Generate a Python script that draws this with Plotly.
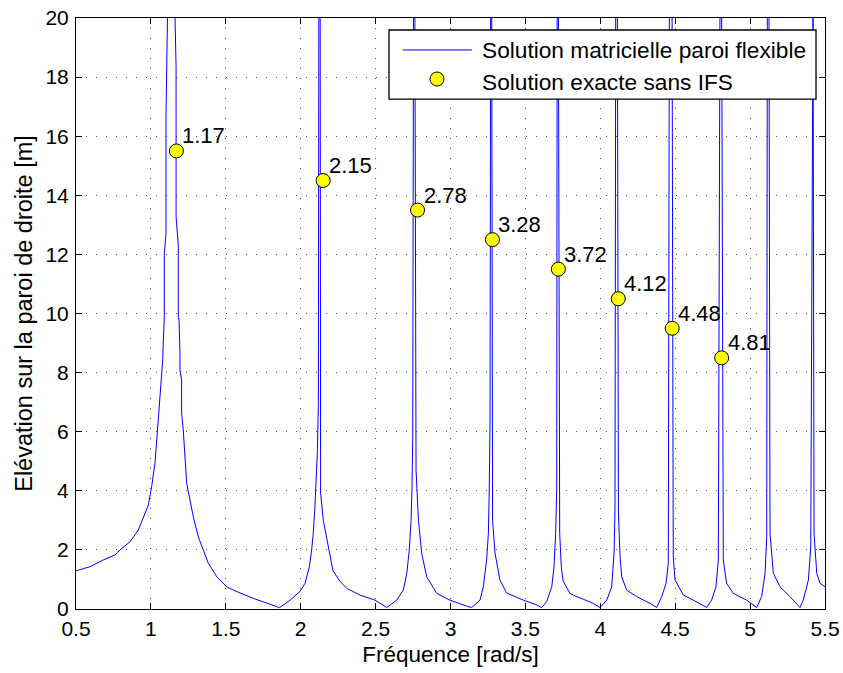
import plotly.graph_objects as go

# ---- Data ----
freq = [0.50, 0.593, 0.682, 0.76, 0.794, 0.861, 0.916, 0.949, 0.983, 1.005, 1.027, 1.039,
        1.056, 1.067, 1.079, 1.083, 1.0875, 1.0897, 1.0897, 1.1008, 1.1008, 1.112,
        1.159, 1.168, 1.168, 1.183, 1.183, 1.188, 1.194, 1.194, 1.205, 1.205, 1.216, 1.228,
        1.239, 1.261, 1.283, 1.316, 1.35, 1.383, 1.44, 1.506, 1.55, 1.684, 1.84, 1.857,
        1.929, 1.995, 2.029, 2.058, 2.073, 2.084, 2.095, 2.102, 2.111, 2.118, 2.121,
        2.130, 2.133, 2.151, 2.173, 2.196, 2.215, 2.26, 2.307, 2.396, 2.496, 2.574,
        2.641, 2.685, 2.708, 2.725, 2.737, 2.743, 2.748, 2.753,
        2.762, 2.77, 2.786, 2.808, 2.841, 2.908, 2.996, 3.107, 3.141,
        3.197, 3.219, 3.241, 3.253, 3.259, 3.264, 3.268,
        3.275, 3.281, 3.297, 3.33, 3.375, 3.486, 3.575, 3.609,
        3.642, 3.676, 3.691, 3.702, 3.709, 3.712,
        3.72, 3.729, 3.74, 3.752, 3.776, 3.797, 3.82, 3.865, 3.953, 3.998,
        4.043, 4.076, 4.092, 4.098, 4.103,
        4.114, 4.121, 4.132, 4.143, 4.176, 4.243, 4.332, 4.377,
        4.41, 4.439, 4.454, 4.461,
        4.479, 4.487, 4.499, 4.555, 4.621, 4.71,
        4.743, 4.772, 4.788, 4.799,
        4.81, 4.821, 4.843, 4.888, 4.977, 5.021, 5.044,
        5.077, 5.1, 5.111, 5.115,
        5.126, 5.133, 5.155, 5.2, 5.266, 5.333,
        5.355, 5.389, 5.405, 5.415,
        5.42, 5.427, 5.445, 5.467, 5.50]
elevation = [1.29, 1.43, 1.66, 1.83, 2.0, 2.28, 2.67, 3.07, 3.52, 4.14, 4.93, 5.72,
             6.85, 7.75, 8.43, 9.1, 9.78, 9.9, 12.04, 12.7, 16.66, 20.5,
             20.5, 18.36, 13.28, 12.3, 9.9, 9.78, 8.66, 8.09, 7.75, 6.63, 6.06, 4.93,
             4.25, 3.69, 3.12, 2.45, 2.0, 1.55, 1.09, 0.75, 0.64, 0.36, 0.08, 0.04,
             0.30, 0.59, 0.87, 1.43, 2.0, 2.56, 3.46, 4.14, 5.27, 6.96, 20.5,
             20.5, 3.92, 3.0, 2.45, 1.75, 1.3, 0.95, 0.70, 0.47, 0.30, 0.05,
             0.30, 0.64, 1.2, 2.0, 3.0, 4.14, 5.83, 20.5,
             20.5, 4.7, 3.0, 1.88, 1.09, 0.53, 0.30, 0.10, 0.05,
             0.30, 0.75, 1.66, 2.56, 4.14, 6.4, 20.5,
             20.5, 3.0, 1.9, 0.98, 0.54, 0.30, 0.14, 0.05,
             0.25, 0.75, 1.43, 2.56, 4.1, 20.5,
             20.5, 2.56, 1.4, 0.95, 0.72, 0.53, 0.47, 0.38, 0.19, 0.05,
             0.30, 0.75, 1.9, 3.35, 20.5,
             20.5, 3.25, 1.77, 1.09, 0.64, 0.42, 0.19, 0.05,
             0.42, 0.87, 1.55, 20.5,
             20.5, 1.77, 0.98, 0.47, 0.30, 0.05,
             0.30, 0.75, 1.66, 20.5,
             20.5, 1.66, 0.87, 0.53, 0.30, 0.14, 0.05,
             0.42, 1.21, 2.45, 20.5,
             20.5, 2.56, 1.21, 0.75, 0.42, 0.05,
             0.30, 0.98, 2.1, 20.5,
             20.5, 2.56, 1.2, 0.87, 0.75]

exact_freq = [1.17, 2.15, 2.78, 3.28, 3.72, 4.12, 4.48, 4.81]
exact_elev = [15.5, 14.5, 13.5, 12.5, 11.5, 10.5, 9.5, 8.5]
exact_labels = ["1.17", "2.15", "2.78", "3.28", "3.72", "4.12", "4.48", "4.81"]

x_ticks = [0.5, 1, 1.5, 2, 2.5, 3, 3.5, 4, 4.5, 5, 5.5]
x_ticktext = ["0.5", "1", "1.5", "2", "2.5", "3", "3.5", "4", "4.5", "5", "5.5"]
y_ticks = [0, 2, 4, 6, 8, 10, 12, 14, 16, 18, 20]

name_line = "Solution matricielle paroi flexible"
name_pts = "Solution exacte sans IFS"

FONT = "Liberation Sans, Arial, Helvetica, sans-serif"

fig = go.Figure()
fig.add_trace(go.Scatter(x=freq, y=elevation, mode="lines", name=name_line,
                         line=dict(color="#0000FF", width=1), showlegend=False))
fig.add_trace(go.Scatter(x=exact_freq, y=exact_elev, mode="markers", name=name_pts,
                         marker=dict(color="#FFFF00", size=14,
                                     line=dict(color="black", width=1)),
                         showlegend=False))

for fx, fy, lab in zip(exact_freq, exact_elev, exact_labels):
    fig.add_annotation(x=fx, y=fy, text=lab, showarrow=False, xanchor="left",
                       yanchor="middle", xshift=4, yshift=15,
                       font=dict(family=FONT, size=22, color="black"))

# ---- Legend box (drawn in paper coordinates) ----
fig.add_shape(type="rect", xref="paper", yref="paper", x0=0.4179, x1=0.988,
              y0=0.8629, y1=0.9797, fillcolor="white",
              line=dict(color="black", width=1.3), layer="above")
fig.add_shape(type="line", xref="paper", yref="paper", x0=0.4366, x1=0.5287,
              y0=0.9459, y1=0.9459, line=dict(color="#0000FF", width=1), layer="above")
fig.add_shape(type="circle", xref="paper", yref="paper", xsizemode="pixel",
              ysizemode="pixel", xanchor=0.482, yanchor=0.8968,
              x0=-7, x1=7, y0=-7, y1=7, fillcolor="#FFFF00",
              line=dict(color="black", width=1), layer="above")
for ty, txt in [(0.9459, name_line), (0.8917, name_pts)]:
    fig.add_annotation(xref="paper", yref="paper", x=0.5394, y=ty, text=txt,
                       showarrow=False, xanchor="left", yanchor="middle",
                       font=dict(family=FONT, size=22.7, color="black"))

axis_common = dict(showline=True, linecolor="black", linewidth=1, mirror="ticks",
                   ticks="inside", ticklen=6, tickcolor="black",
                   showgrid=True, gridcolor="#555555", gridwidth=1, griddash="1px,9px",
                   zeroline=False, tickfont=dict(family=FONT, size=21, color="black"))

fig.update_xaxes(range=[0.5, 5.5], tickvals=x_ticks, ticktext=x_ticktext,
                 title=dict(text="Fréquence [rad/s]", standoff=7,
                            font=dict(family=FONT, size=22.5, color="black")),
                 ticklabelstandoff=1, **axis_common)
fig.update_yaxes(range=[0, 20], tickvals=y_ticks,
                 title=dict(text="Elévation sur la paroi de droite [m]", standoff=6,
                            font=dict(family=FONT, size=23.5, color="black")),
                 ticklabelstandoff=2, **axis_common)

fig.update_layout(width=843, height=673,
                  margin=dict(l=76, r=18, t=18, b=64, autoexpand=False),
                  plot_bgcolor="white", paper_bgcolor="white",
                  font=dict(family=FONT, size=21, color="black"),
                  showlegend=False)

fig.write_html("out.html")
